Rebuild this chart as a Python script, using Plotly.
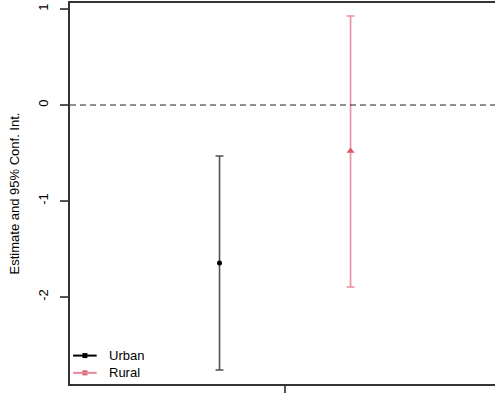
import plotly.graph_objects as go

# Point estimates with 95% confidence intervals
groups = ["Urban", "Rural"]
x_pos = [0.8, 1.2]
estimates = [-1.646, -0.479]
ci_lower = [-2.76, -1.896]
ci_upper = [-0.531, 0.927]

colors = ["#000000", "#DF536B"]
bar_colors = ["rgba(0,0,0,0.68)", "rgba(223,83,107,0.65)"]
symbols = ["circle", "triangle-up"]
sizes = [5, 7]

fig = go.Figure()

for i, g in enumerate(groups):
    fig.add_trace(go.Scatter(
        x=[x_pos[i]], y=[estimates[i]],
        mode="markers",
        marker=dict(color=colors[i], symbol=symbols[i], size=sizes[i]),
        error_y=dict(
            type="data", symmetric=False,
            array=[ci_upper[i] - estimates[i]],
            arrayminus=[estimates[i] - ci_lower[i]],
            color=bar_colors[i], thickness=1.6, width=4,
        ),
        name=g, showlegend=False,
    ))

# Zero reference line
fig.add_shape(type="line", xref="paper", yref="y", x0=0, x1=1, y0=0, y1=0,
              line=dict(color="#222222", width=1.2, dash="6px,4px"))

# Legend drawn inside the lower-left corner
legend_y = [-2.61, -2.79]
for i, g in enumerate(groups):
    fig.add_shape(type="line", xref="x", yref="y", x0=0.353, x1=0.425,
                  y0=legend_y[i], y1=legend_y[i],
                  line=dict(color=colors[i] if i == 0 else "#E8899A", width=2))
    fig.add_trace(go.Scatter(
        x=[0.389], y=[legend_y[i]], mode="markers",
        marker=dict(symbol="square", size=5, color=colors[i]),
        showlegend=False, hoverinfo="skip",
    ))
    fig.add_annotation(x=0.455, y=legend_y[i], xref="x", yref="y", text=g,
                       showarrow=False, xanchor="left", yanchor="middle",
                       font=dict(size=13, color="#000000"))

fig.update_layout(
    width=495, height=394,
    margin=dict(l=70, r=0, t=3, b=10),
    paper_bgcolor="white", plot_bgcolor="white",
    font=dict(family="Liberation Sans, Arial, sans-serif", size=13, color="#000000"),
    showlegend=False,
)

fig.update_xaxes(
    range=[0.3435, 1.641], showgrid=False, zeroline=False,
    showline=True, linecolor="#333333", linewidth=1.5, mirror=True,
    tickmode="array", tickvals=[1.0], ticktext=[""],
    ticks="outside", ticklen=7, tickcolor="#555555", tickwidth=1.5,
)

fig.update_yaxes(
    range=[-2.906, 1.0625], showgrid=False, zeroline=False,
    showline=True, linecolor="#333333", linewidth=1.5,
    tickmode="array", tickvals=[1, 0, -1, -2], ticktext=["1", "0", "-1", "-2"],
    tickangle=-90, ticks="outside", ticklen=8, tickcolor="#555555", tickwidth=1.5,
    ticklabelstandoff=7, tickfont=dict(size=13),
    title=dict(text="Estimate and 95% Conf. Int.", standoff=13, font=dict(size=13)),
)

fig.write_html("out.html")
